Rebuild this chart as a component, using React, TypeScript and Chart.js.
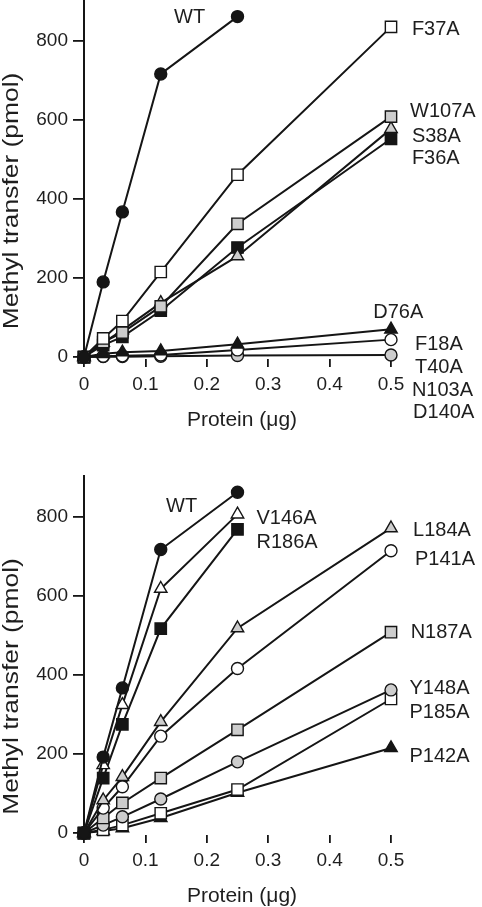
import React, { useEffect, useRef } from 'react';
import { Chart, registerables } from 'chart.js';

Chart.register(...registerables);

// ---------- data ----------
const xValues = [0, 0.03125, 0.0625, 0.125, 0.25, 0.5];
const xTicks = [0, 0.1, 0.2, 0.3, 0.4, 0.5];
const yTicks = [0, 200, 400, 600, 800];

// Upper panel
const wtA = [0, 190, 367, 716, 861];
const f37a = [0, 47, 91, 215, 461, 835];
const w107a = [0, 38, 62, 128, 337, 608];
const s38a = [0, 36, 68, 137, 255, 577];
const f36a = [0, 30, 51, 117, 277, 552];
const d76a = [0, 8, 12, 15, 32, 70];
const f18a = [0, 2, 3, 5, 18, 44];
const t40a = [0, 1, 1, 2, 4, 5];

// Lower panel
const wtB = [0, 192, 367, 717, 862];
const v146a = [0, 172, 324, 618, 806];
const r186a = [0, 139, 275, 517, 768];
const l184a = [0, 83, 142, 281, 518, 771];
const p141a = [0, 63, 117, 245, 416, 714];
const n187a = [0, 38, 76, 139, 261, 508];
const y148a = [0, 20, 41, 86, 180, 362];
const p185a = [0, 8, 20, 50, 110, 339];
const p142a = [0, 5, 12, 38, 102, 215];

// ---------- styles ----------
const LINE = '#151515';
const TEXT = '#1e1e1e';
const GRAY = '#cdcdcd';
const WHITE = '#ffffff';
const FONT = '"Liberation Sans", Arial, Helvetica, sans-serif';

type Marker = 'circle' | 'rect' | 'triangle';
interface SeriesDef { values: number[]; marker: Marker; fill: string }
interface LabelDef { text: string; x: number; y: number }

const seriesA: SeriesDef[] = [
  { values: wtA, marker: 'circle', fill: LINE },
  { values: f37a, marker: 'rect', fill: WHITE },
  { values: w107a, marker: 'rect', fill: GRAY },
  { values: s38a, marker: 'triangle', fill: GRAY },
  { values: f36a, marker: 'rect', fill: LINE },
  { values: d76a, marker: 'triangle', fill: LINE },
  { values: f18a, marker: 'circle', fill: WHITE },
  { values: t40a, marker: 'circle', fill: GRAY },
];

const seriesB: SeriesDef[] = [
  { values: wtB, marker: 'circle', fill: LINE },
  { values: v146a, marker: 'triangle', fill: WHITE },
  { values: r186a, marker: 'rect', fill: LINE },
  { values: l184a, marker: 'triangle', fill: GRAY },
  { values: p141a, marker: 'circle', fill: WHITE },
  { values: n187a, marker: 'rect', fill: GRAY },
  { values: y148a, marker: 'circle', fill: GRAY },
  { values: p185a, marker: 'rect', fill: WHITE },
  { values: p142a, marker: 'triangle', fill: LINE },
];

// label anchors (data coordinates, left edge / baseline)
const labelsA: LabelDef[] = [
  { text: 'WT', x: 0.1466, y: 845 },
  { text: 'F37A', x: 0.534, y: 814 },
  { text: 'W107A', x: 0.531, y: 608 },
  { text: 'S38A', x: 0.534, y: 545 },
  { text: 'F36A', x: 0.534, y: 488 },
  { text: 'D76A', x: 0.471, y: 98 },
  { text: 'F18A', x: 0.539, y: 18 },
  { text: 'T40A', x: 0.539, y: -40 },
  { text: 'N103A', x: 0.534, y: -98 },
  { text: 'D140A', x: 0.536, y: -155 },
];

const labelsB: LabelDef[] = [
  { text: 'WT', x: 0.1336, y: 812 },
  { text: 'V146A', x: 0.281, y: 781 },
  { text: 'R186A', x: 0.281, y: 720 },
  { text: 'L184A', x: 0.536, y: 751 },
  { text: 'P141A', x: 0.539, y: 678 },
  { text: 'N187A', x: 0.532, y: 492 },
  { text: 'Y148A', x: 0.530, y: 351 },
  { text: 'P185A', x: 0.530, y: 290 },
  { text: 'P142A', x: 0.530, y: 180 },
];

const X_TITLE = 'Protein (\u03bcg)';
const Y_TITLE = 'Methyl transfer (pmol)';

function makeDatasets(list: SeriesDef[]) {
  return list.map((s) => ({
    data: s.values.map((v, i) => ({ x: xValues[i], y: v })),
    borderColor: LINE,
    borderWidth: 2,
    pointStyle: s.marker,
    pointRadius: s.marker === 'rect' ? 8 : s.marker === 'triangle' ? 7.2 : 6,
    pointBackgroundColor: s.fill,
    pointBorderColor: LINE,
    pointBorderWidth: 1.4,
    clip: false,
    tension: 0,
    fill: false,
  }));
}

interface PanelProps {
  series: SeriesDef[];
  labels: LabelDef[];
  top: number;
  height: number;
  padTop: number;
  xAxisHeight: number;
  yTitleCenter: number;
}

function Panel({ series, labels, top, height, padTop, xAxisHeight, yTitleCenter }: PanelProps) {
  const ref = useRef<HTMLCanvasElement | null>(null);

  useEffect(() => {
    const canvas = ref.current;
    if (!canvas) return;

    const textPlugin = {
      id: 'panelText',
      afterDraw(chart: any) {
        const { ctx, chartArea, scales } = chart;
        const xs = scales.x;
        const ys = scales.y;
        ctx.save();
        ctx.fillStyle = TEXT;
        ctx.textAlign = 'left';
        ctx.textBaseline = 'alphabetic';
        ctx.font = `20px ${FONT}`;
        labels.forEach((l) => {
          ctx.fillText(l.text, xs.getPixelForValue(l.x), ys.getPixelForValue(l.y));
        });
        // x title
        ctx.font = `21px ${FONT}`;
        ctx.textAlign = 'center';
        ctx.fillText(X_TITLE, (chartArea.left + chartArea.right) / 2 + 4.5, chartArea.bottom + 67);
        // y title
        ctx.save();
        ctx.translate(18, yTitleCenter);
        ctx.scale(1, 1.2);
        ctx.rotate(-Math.PI / 2);
        ctx.font = `22px ${FONT}`;
        ctx.textAlign = 'center';
        ctx.fillText(Y_TITLE, 0, 0);
        ctx.restore();
        ctx.restore();
      },
    };

    const chart = new Chart(canvas, {
      type: 'line',
      data: { datasets: makeDatasets(series) as any },
      options: {
        responsive: false,
        animation: false,
        events: [],
        layout: { autoPadding: false, padding: { left: 0, right: 91, top: padTop, bottom: 0 } },
        plugins: { legend: { display: false }, tooltip: { enabled: false } },
        scales: {
          x: {
            type: 'linear',
            min: 0,
            max: 0.5,
            afterBuildTicks: (s: any) => {
              s.ticks = xTicks.map((v) => ({ value: v }));
            },
            afterFit: (s: any) => {
              s.height = xAxisHeight;
              s.paddingLeft = 0;
              s.paddingRight = 0;
            },
            border: { display: false },
            grid: {
              display: true,
              drawOnChartArea: false,
              drawTicks: true,
              tickLength: 8,
              color: LINE,
              lineWidth: 1.8,
            },
            ticks: {
              autoSkip: false,
              maxRotation: 0,
              padding: 6,
              color: TEXT,
              font: { family: FONT, size: 19 },
              callback: (v: any) => String(v),
            },
          },
          y: {
            type: 'linear',
            min: -5,
            max: 903,
            afterBuildTicks: (s: any) => {
              s.ticks = yTicks.map((v) => ({ value: v }));
            },
            afterFit: (s: any) => {
              s.width = 84;
              s.paddingTop = 0;
              s.paddingBottom = 0;
            },
            border: { display: true, color: LINE, width: 2 },
            grid: {
              display: true,
              drawOnChartArea: false,
              drawTicks: true,
              tickLength: 11,
              color: LINE,
              lineWidth: 1.8,
            },
            ticks: {
              padding: 5,
              color: TEXT,
              font: { family: FONT, size: 19 },
              callback: (v: any) => String(v),
            },
          },
        },
      } as any,
      plugins: [textPlugin],
    });

    return () => chart.destroy();
  }, [series, labels, padTop, xAxisHeight, yTitleCenter]);

  return (
    <div style={{ position: 'absolute', left: 0, top, width: 482, height }}>
      <canvas ref={ref} width={482} height={height} style={{ width: 482, height, display: 'block' }} />
    </div>
  );
}

export default function App() {
  return (
    <div style={{ position: 'absolute', left: 0, top: 0, width: 482, height: 907, background: '#fff', overflow: 'hidden' }}>
      <Panel series={seriesA} labels={labelsA} top={0} height={453} padTop={0} xAxisHeight={94} yTitleCenter={201} />
      <Panel series={seriesB} labels={labelsB} top={453} height={454} padTop={23} xAxisHeight={72} yTitleCenter={233.5} />
    </div>
  );
}
